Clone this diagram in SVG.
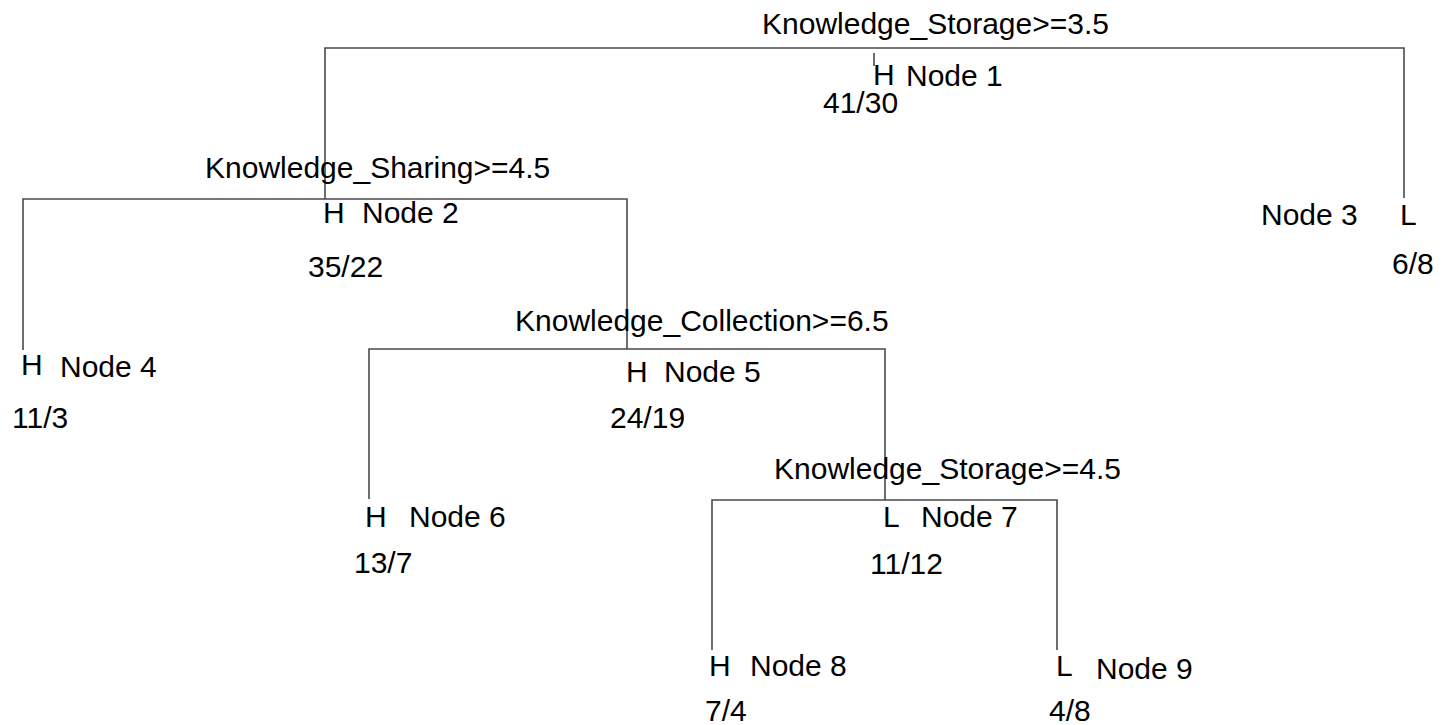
<svg xmlns="http://www.w3.org/2000/svg" width="1451" height="725" viewBox="0 0 1451 725">
<style>
text{font-family:"Liberation Sans",Arial,sans-serif;font-size:30px;fill:#000}
.e{stroke:#4a4a4a;stroke-width:1.6;fill:none}
</style>
<rect width="1451" height="725" fill="#fff"/>
<g id="connectors">
<path class="e" d="M874,53V66"/>
<path class="e" d="M325,199V48H1404V198"/>
<path class="e" d="M23,350V199H627V349"/>
<path class="e" d="M369,499V349H885V500"/>
<path class="e" d="M712,650V500H1057V650"/>
</g>
<g id="node1">
<text x="762" y="34">Knowledge_Storage&gt;=3.5</text>
<text x="873" y="85">H</text>
<text x="906" y="86">Node 1</text>
<text x="823" y="113">41/30</text>
</g>
<g id="node2">
<text x="205" y="178">Knowledge_Sharing&gt;=4.5</text>
<text x="323" y="223">H</text>
<text x="362" y="223">Node 2</text>
<text x="308" y="277">35/22</text>
</g>
<g id="node3">
<text x="1261" y="225">Node 3</text>
<text x="1400" y="225">L</text>
<text x="1392" y="274">6/8</text>
</g>
<g id="node4">
<text x="21" y="375">H</text>
<text x="60" y="377">Node 4</text>
<text x="12" y="428">11/3</text>
</g>
<g id="node5">
<text x="515" y="331">Knowledge_Collection&gt;=6.5</text>
<text x="626" y="382">H</text>
<text x="664" y="382">Node 5</text>
<text x="610" y="428">24/19</text>
</g>
<g id="node6">
<text x="365" y="527">H</text>
<text x="409" y="527">Node 6</text>
<text x="354" y="573">13/7</text>
</g>
<g id="node7">
<text x="774" y="479">Knowledge_Storage&gt;=4.5</text>
<text x="883" y="527">L</text>
<text x="921" y="527">Node 7</text>
<text x="870" y="574">11/12</text>
</g>
<g id="node8">
<text x="709" y="676">H</text>
<text x="750" y="676">Node 8</text>
<text x="705" y="721">7/4</text>
</g>
<g id="node9">
<text x="1056" y="676">L</text>
<text x="1096" y="679">Node 9</text>
<text x="1049" y="721">4/8</text>
</g>
</svg>
